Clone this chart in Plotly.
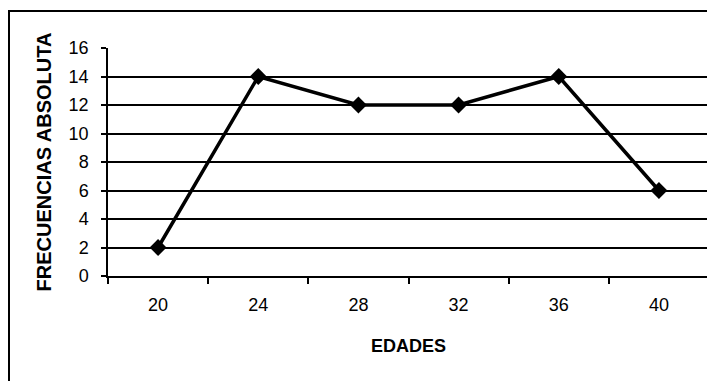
import plotly.graph_objects as go

edades = ["20", "24", "28", "32", "36", "40"]
frecuencias = [2, 14, 12, 12, 14, 6]
y_ticks = [0, 2, 4, 6, 8, 10, 12, 14, 16]
grid_values = [2, 4, 6, 8, 10, 12, 14]

FONT = "Liberation Sans, Arial, sans-serif"

fig = go.Figure()
fig.add_trace(go.Scatter(
    x=edades, y=frecuencias, mode="lines+markers",
    line=dict(color="black", width=3.5),
    marker=dict(symbol="diamond", size=13, color="black"),
    showlegend=False,
))

# page body has an 8px margin; the figure is sized so it fills the window
fig.update_layout(
    width=707, height=373,
    margin=dict(l=100, r=6, t=40, b=105),
    paper_bgcolor="white", plot_bgcolor="white",
    font=dict(family=FONT, size=18, color="black"),
    xaxis=dict(
        type="category", tickson="boundaries", automargin=False,
        range=[-0.5, len(edades) - 0.5],
        showgrid=False, showline=True, linecolor="black", linewidth=1.5,
        ticks="outside", ticklen=6, tickcolor="black", tickwidth=1.5,
        ticklabelstandoff=12,
        title=dict(text="<b>EDADES</b>", font=dict(size=18), standoff=25),
        zeroline=False,
    ),
    yaxis=dict(
        range=[0, 16], tickvals=y_ticks, showgrid=False, automargin=False,
        showline=True, linecolor="black", linewidth=1.5,
        ticks="outside", ticklen=5, tickcolor="black", tickwidth=1.5,
        ticklabelstandoff=9,
        title=dict(text="<b>FRECUENCIAS ABSOLUTA</b>", font=dict(size=20), standoff=12),
        zeroline=False,
    ),
    yaxis2=dict(
        range=[0, 16], tickvals=grid_values, overlaying="y", automargin=False,
        showgrid=True, gridcolor="black", gridwidth=1.5,
        showticklabels=False, ticks="", showline=False, zeroline=False,
    ),
    shapes=[dict(
        type="rect", xref="paper", yref="paper",
        x0=(1 - 100) / 601, x1=1.05, y0=-0.6, y1=1 + (40 - 3) / 228,
        line=dict(color="black", width=2), layer="below",
    )],
)

# invisible trace so the overlay grid axis renders
fig.add_trace(go.Scatter(x=[edades[0]], y=[frecuencias[0]], yaxis="y2",
                         mode="markers", marker=dict(opacity=0),
                         showlegend=False, hoverinfo="skip"))

fig.write_html("out.html", config={"displayModeBar": False})
